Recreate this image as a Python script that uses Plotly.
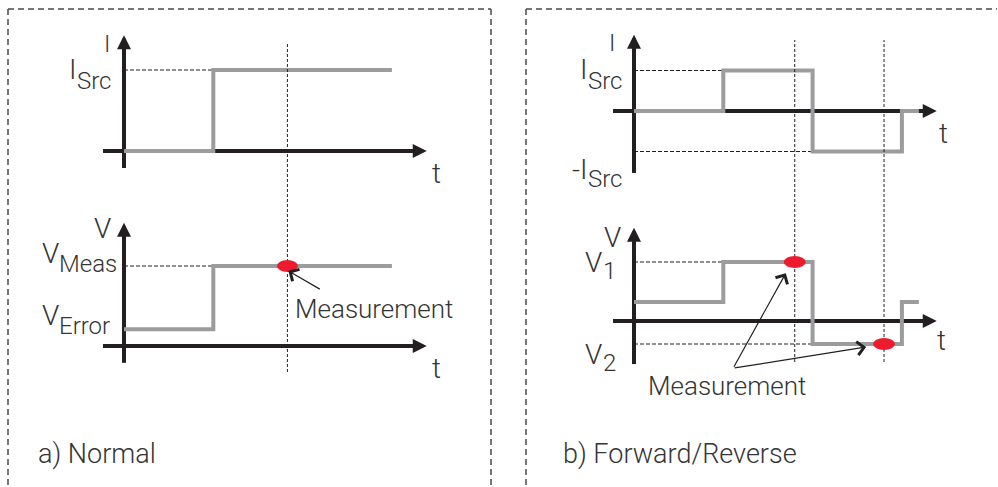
import plotly.graph_objects as go

W, H = 998, 487

# ---------------- data (logical units) ----------------
# a) Normal: source current (units of I_Src) and measured voltage (units of V_Meas)
TIME_A = [0, 1, 1, 3]
CURRENT_A = [0, 0, 1, 1]
VOLTAGE_A = [0.21, 0.21, 1, 1]
T_MEAS_A = [1.83]
V_MEAS_A = [1.0]

# b) Forward/Reverse
TIME_B = [0, 1, 1, 2, 2, 3, 3, 3.19]
CURRENT_B = [0, 0, 1, 1, -1, -1, 0, 0]
VOLTAGE_B = [0.32, 0.32, 1, 1, -0.39, -0.39, 0.32, 0.32]
T_MEAS_B = [1.8, 2.8]
V_MEAS_B = [1.0, -0.39]

# ---------------- styling ----------------
FONT = "Roboto Light, Roboto"
TXT = "#353535"
AXC = "#231f20"
GRAY = "#9b9c9e"
RED = "#ec1c2e"

# pixel placement of each little plot: origin pixel and pixels per unit
PANELS = {
    "1": dict(px0=124, sx=89.3, py0=151, sy=81),    # a) current
    "2": dict(px0=124, sx=89.3, py0=346, sy=80),    # a) voltage
    "3": dict(px0=634, sx=89.3, py0=111, sy=40.5),  # b) current
    "4": dict(px0=634, sx=89.3, py0=321, sy=59),    # b) voltage
}
# axis extents (logical units): t from..to, y from..to
AXES_EXT = {
    "1": dict(t=(-0.235, 3.39), y=(-0.21, 1.43)),
    "2": dict(t=(-0.235, 3.39), y=(-0.21, 1.54)),
    "3": dict(t=(-0.235, 3.39), y=(-1.53, 1.88)),
    "4": dict(t=(-0.235, 3.39), y=(-0.73, 1.58)),
}

fig = go.Figure()
layout = dict(width=W, height=H, margin=dict(l=0, r=0, t=0, b=0),
              paper_bgcolor="white", plot_bgcolor="white", showlegend=False,
              hovermode=False)

for k, p in PANELS.items():
    xa = "xaxis" if k == "1" else f"xaxis{k}"
    ya = "yaxis" if k == "1" else f"yaxis{k}"
    xr = [-p["px0"] / p["sx"], (W - p["px0"]) / p["sx"]]
    yr = [(p["py0"] - H) / p["sy"], p["py0"] / p["sy"]]
    xd = dict(range=xr, domain=[0, 1], visible=False, fixedrange=True)
    yd = dict(range=yr, domain=[0, 1], visible=False, fixedrange=True)
    if k != "1":
        xd["overlaying"] = "x"
        yd["overlaying"] = "y"
        xd["anchor"] = f"y{k}"
        yd["anchor"] = f"x{k}"
    layout[xa] = xd
    layout[ya] = yd


def ax_id(k):
    return ("x", "y") if k == "1" else (f"x{k}", f"y{k}")


annotations = []
shapes = []

# axis bodies (black) drawn first so the grey signals sit on top
for k, e in AXES_EXT.items():
    xr_, yr_ = ax_id(k)
    fig.add_trace(go.Scatter(x=[e["t"][0], e["t"][1] - 0.1], y=[0, 0], mode="lines",
                             line=dict(color=AXC, width=4), xaxis=xr_, yaxis=yr_,
                             hoverinfo="skip"))
    fig.add_trace(go.Scatter(x=[0, 0], y=[e["y"][0], e["y"][1] - 12 / PANELS[k]["sy"]],
                             mode="lines", line=dict(color=AXC, width=4),
                             xaxis=xr_, yaxis=yr_, hoverinfo="skip"))
    # arrowheads
    annotations.append(dict(x=e["t"][1], y=0, xref=xr_, yref=yr_, ax=-16, ay=0,
                            showarrow=True, arrowhead=2, arrowsize=0.7, arrowwidth=4,
                            arrowcolor=AXC, text=""))
    annotations.append(dict(x=0, y=e["y"][1], xref=xr_, yref=yr_, ax=0, ay=16,
                            showarrow=True, arrowhead=2, arrowsize=0.7, arrowwidth=4,
                            arrowcolor=AXC, text=""))

# signals
for k, (tx, ty) in {"1": (TIME_A, CURRENT_A), "2": (TIME_A, VOLTAGE_A),
                    "3": (TIME_B, CURRENT_B), "4": (TIME_B, VOLTAGE_B)}.items():
    xr_, yr_ = ax_id(k)
    fig.add_trace(go.Scatter(x=tx, y=ty, mode="lines", line=dict(color=GRAY, width=4),
                             xaxis=xr_, yaxis=yr_, hoverinfo="skip"))


# dashed level guides from the axis to the step
def guide(k, t_end, level):
    xr_, yr_ = ax_id(k)
    shapes.append(dict(type="line", xref=xr_, yref=yr_, x0=0, x1=t_end, y0=level, y1=level,
                       line=dict(color=AXC, width=1, dash="4px,2px"), layer="below"))


guide("1", TIME_A[1], CURRENT_A[2])
guide("2", TIME_A[1], VOLTAGE_A[2])
guide("3", TIME_B[1], CURRENT_B[2])
guide("3", TIME_B[3], CURRENT_B[4])
guide("4", TIME_B[1], VOLTAGE_B[2])
guide("4", TIME_B[3], VOLTAGE_B[4])

# dotted vertical measurement markers
for t in T_MEAS_A:
    shapes.append(dict(type="line", xref="x", yref="paper", x0=t, x1=t,
                       y0=1 - 372 / H, y1=1 - 43 / H,
                       line=dict(color=AXC, width=1, dash="3px,2px")))
for t in T_MEAS_B:
    shapes.append(dict(type="line", xref="x3", yref="paper", x0=t, x1=t,
                       y0=1 - 362 / H, y1=1 - 40 / H,
                       line=dict(color=AXC, width=1, dash="3px,2px")))

# red measurement dots
for t, v in zip(T_MEAS_A, V_MEAS_A):
    shapes.append(dict(type="circle", xref="x2", yref="y2", xsizemode="pixel",
                       ysizemode="pixel", xanchor=t, yanchor=v, x0=-10.5, x1=10.5,
                       y0=-6, y1=6, fillcolor=RED, line=dict(width=0)))
for t, v in zip(T_MEAS_B, V_MEAS_B):
    shapes.append(dict(type="circle", xref="x4", yref="y4", xsizemode="pixel",
                       ysizemode="pixel", xanchor=t, yanchor=v, x0=-11, x1=11,
                       y0=-6, y1=6, fillcolor=RED, line=dict(width=0)))

# dashed panel frames
FR = dict(color="#4a4a4a", width=1.5, dash="6px,4px")
for (x0, y0, x1, y1) in [(8, 9, 491, 9), (8, 9, 8, 487), (491, 9, 491, 487),
                         (526, 9, 997, 9), (526, 9, 526, 487)]:
    shapes.append(dict(type="line", xref="paper", yref="paper", x0=x0 / W, x1=x1 / W,
                       y0=1 - y0 / H, y1=1 - y1 / H, line=FR))

# thin "Measurement" pointer arrows
annotations.append(dict(x=1.84, y=0.94, ax=2.21, ay=0.70, xref="x2", yref="y2",
                        axref="x2", ayref="y2", showarrow=True, arrowhead=4,
                        arrowsize=2.2, arrowwidth=1.2, arrowcolor=AXC, text=""))
for (tx, ty) in [(1.70, 0.81), (2.60, -0.44)]:
    annotations.append(dict(x=tx, y=ty, ax=1.11, ay=-0.80, xref="x4", yref="y4",
                            axref="x4", ayref="y4", showarrow=True, arrowhead=4,
                            arrowsize=2.2, arrowwidth=1.2, arrowcolor=AXC, text=""))


def label(text, x, y, size, xanchor="center"):
    annotations.append(dict(text=text, x=x / W, y=1 - y / H, xref="paper", yref="paper",
                            xanchor=xanchor, yanchor="middle", showarrow=False,
                            borderpad=0,
                            font=dict(family=FONT, size=size, color=TXT, weight=300)))


# panel a labels
label("I", 107, 44, 24)
label("I", 77, 69, 28, "right")
label("Src", 76, 81, 24, "left")
label("t", 436, 173, 28)
label("V", 102, 228, 28)
label("V", 60, 253, 28, "right")
label("Meas", 58, 264, 24, "left")
label("V", 60, 315, 28, "right")
label("Error", 58, 326, 24, "left")
label("t", 436, 368, 28)
label("Measurement", 294, 309, 26, "left")
label("a) Normal", 37, 454, 27, "left")

# panel b labels
label("I", 612, 43, 24)
label("I", 588, 69, 28, "right")
label("Src", 587, 81, 24, "left")
label("-I", 588, 169, 28, "right")
label("Src", 587, 179, 24, "left")
label("t", 943, 133, 28)
label("V", 612, 237, 28)
label("V", 603, 262, 28, "right")
label("1", 602, 271, 24, "left")
label("V", 603, 354, 28, "right")
label("2", 602, 363, 24, "left")
label("t", 941, 340, 28)
label("Measurement", 647, 386, 26, "left")
label("b) Forward/Reverse", 562, 454, 27, "left")

layout["annotations"] = annotations
layout["shapes"] = shapes
fig.update_layout(**layout)
fig.write_html("out.html", config={"displayModeBar": False, "staticPlot": True},
               post_script="document.body.style.margin='0';document.body.style.overflow='hidden';")
